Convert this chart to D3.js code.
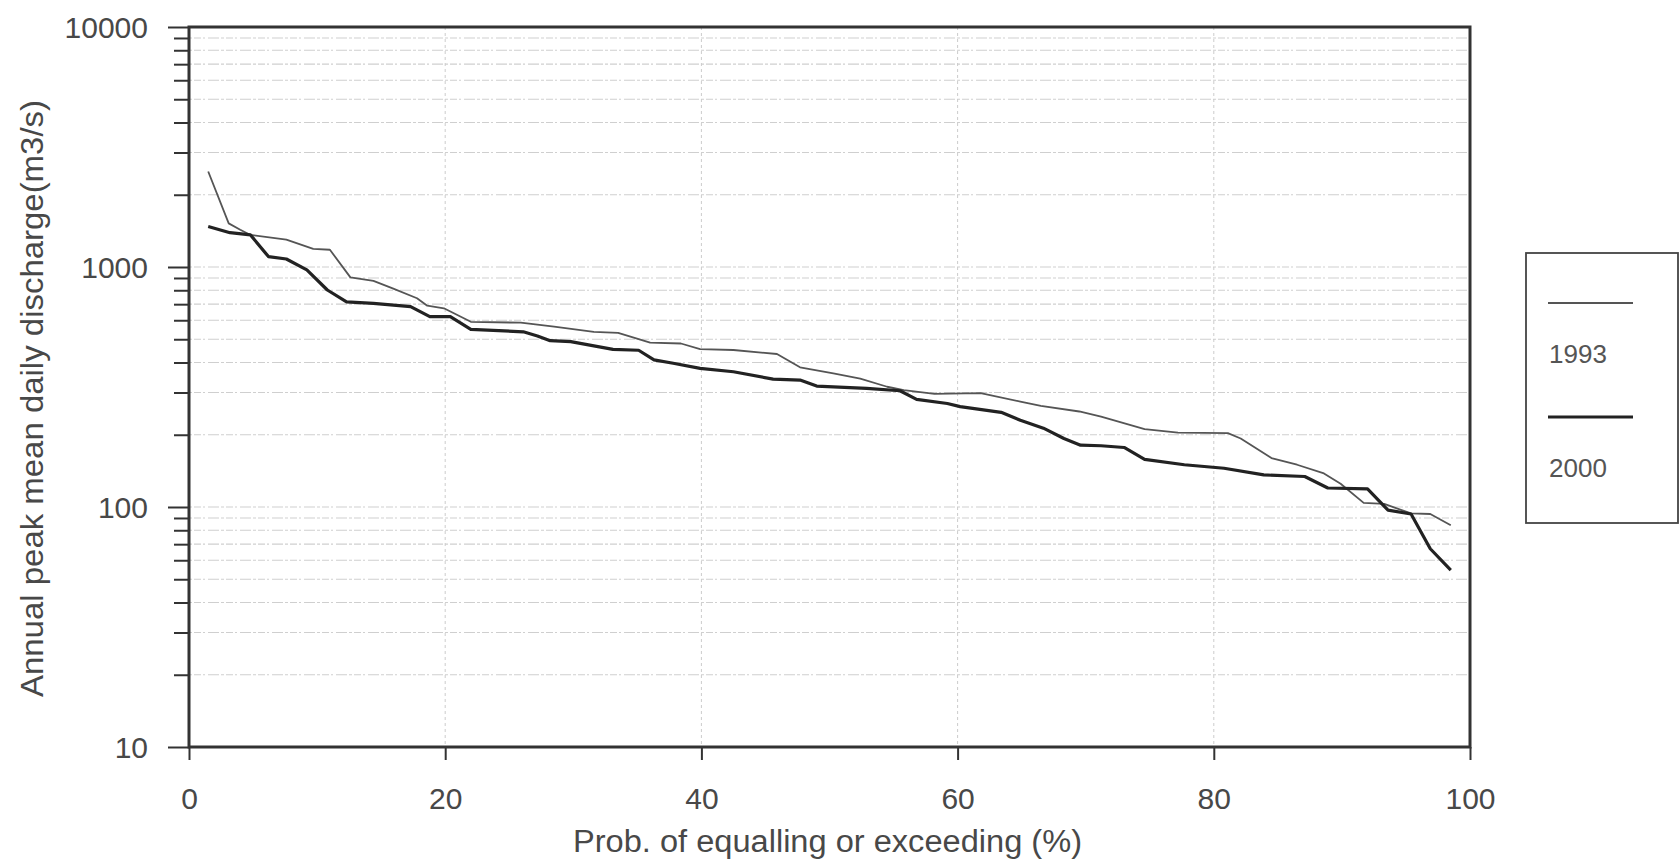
<!DOCTYPE html>
<html>
<head>
<meta charset="utf-8">
<script src="https://cdn.jsdelivr.net/npm/d3@7"></script>
<style>
  html, body { margin: 0; padding: 0; background: #fff; }
  svg { display: block; font-family: "Liberation Sans", Arial, sans-serif; }
</style>
</head>
<body>
<svg id="chart" width="1680" height="867"></svg>
<script>
// Flow duration of annual peak mean daily discharge
const prob1993 = [1.5, 3.1, 4.0, 4.8, 7.6, 9.7, 11.0, 12.6, 14.4, 15.9, 17.8, 18.6, 19.9, 22.0, 25.9, 28.5, 31.6, 33.5, 36.0, 38.4, 39.9, 42.5, 45.9, 47.7, 50.3, 52.4, 54.5, 55.8, 58.2, 61.8, 64.9, 66.5, 69.5, 71.2, 74.6, 77.2, 81.1, 82.1, 84.5, 86.5, 88.6, 89.9, 91.7, 93.3, 95.4, 96.9, 98.5];
const flow1993 = [2500, 1520, 1430, 1360, 1300, 1190, 1180, 905, 875, 815, 741, 690, 673, 591, 586, 564, 537, 532, 484, 480, 455, 451, 434, 382, 360, 343, 317, 307, 296, 298, 275, 264, 250, 238, 211, 204, 203, 193, 160, 150, 138, 125, 104, 103, 94, 93.5, 84];

const prob2000 = [1.5, 3.2, 4.8, 6.2, 7.6, 9.2, 10.8, 12.3, 14.4, 17.3, 18.8, 20.4, 22.0, 26.1, 27.2, 28.2, 29.8, 33.1, 35.1, 36.3, 37.8, 39.9, 42.5, 45.6, 47.7, 49.0, 52.9, 55.5, 56.8, 59.2, 60.2, 63.4, 64.9, 66.7, 68.3, 69.6, 71.2, 73.0, 74.6, 77.7, 80.8, 83.9, 87.1, 88.9, 92.0, 93.6, 95.4, 96.9, 98.5];
const flow2000 = [1475, 1390, 1360, 1105, 1080, 972, 802, 716, 706, 684, 621, 621, 550, 537, 516, 493, 489, 454, 450, 410, 397, 378, 366, 341, 338, 319, 312, 305, 281, 270, 262, 248, 230, 213, 193, 181, 180, 177, 158, 150, 145, 136, 134, 120, 119, 97, 93.5, 67, 54.6];

const xTicks = [0, 20, 40, 60, 80, 100];
const yMajorTicks = [10, 100, 1000, 10000];
const yMinorTicks = [20, 30, 40, 50, 60, 70, 80, 90, 200, 300, 400, 500, 600, 700, 800, 900, 2000, 3000, 4000, 5000, 6000, 7000, 8000, 9000];
const seriesNames = ["1993", "2000"];

const svg = d3.select("#chart");
const plotLeft = 189, plotRight = 1470, plotTop = 27, plotBottom = 747;

const x = d3.scaleLinear().domain([0, 100]).range([plotLeft, plotRight]);
const y = d3.scaleLog().domain([10, 10000]).range([plotBottom, plotTop]);

// horizontal grid at every minor and major decade value
svg.append("g")
  .selectAll("line")
  .data(yMinorTicks.concat([100, 1000]))
  .join("line")
  .attr("x1", plotLeft).attr("x2", plotRight)
  .attr("y1", d => y(d)).attr("y2", d => y(d))
  .attr("stroke", "#cfcfcf")
  .attr("stroke-width", 1.2)
  .attr("stroke-dasharray", "3 2 7 2 2 3 11 2");

// vertical grid
svg.append("g")
  .selectAll("line")
  .data(xTicks.slice(1, -1))
  .join("line")
  .attr("x1", d => x(d)).attr("x2", d => x(d))
  .attr("y1", plotTop).attr("y2", plotBottom)
  .attr("stroke", "#cccccc")
  .attr("stroke-width", 1)
  .attr("stroke-dasharray", "3 3");

// series
const line = d3.line().x(d => x(d[0])).y(d => y(d[1]));
svg.append("path")
  .datum(d3.zip(prob1993, flow1993))
  .attr("d", line)
  .attr("fill", "none")
  .attr("stroke", "#555")
  .attr("stroke-width", 1.8)
  .attr("stroke-linejoin", "round");
svg.append("path")
  .datum(d3.zip(prob2000, flow2000))
  .attr("d", line)
  .attr("fill", "none")
  .attr("stroke", "#222")
  .attr("stroke-width", 3.2)
  .attr("stroke-linejoin", "round");

// axes
const tickColor = "#333";
const yAxisMajor = svg.append("g")
  .attr("transform", `translate(${plotLeft},0)`)
  .call(d3.axisLeft(y).tickValues(yMajorTicks).tickFormat(d3.format("d")).tickSize(21).tickPadding(20));
const yAxisMinor = svg.append("g")
  .attr("transform", `translate(${plotLeft},0)`)
  .call(d3.axisLeft(y).tickValues(yMinorTicks).tickFormat("").tickSize(15));
const xAxis = svg.append("g")
  .attr("transform", `translate(0,${plotBottom})`)
  .call(d3.axisBottom(x).tickValues(xTicks).tickSize(13).tickPadding(28));

[yAxisMajor, yAxisMinor, xAxis].forEach(g => {
  g.select(".domain").remove();
  g.selectAll(".tick line").attr("stroke", tickColor).attr("stroke-width", 2);
  g.selectAll(".tick text").attr("fill", "#484848").style("font-size", "30px");
});
yAxisMajor.selectAll(".tick text").attr("dy", "0.36em");

// plot frame
svg.append("rect")
  .attr("x", plotLeft).attr("y", plotTop)
  .attr("width", plotRight - plotLeft).attr("height", plotBottom - plotTop)
  .attr("fill", "none")
  .attr("stroke", "#333")
  .attr("stroke-width", 3);

// axis titles
svg.append("text")
  .attr("x", (573 + 1082) / 2).attr("y", 852)
  .attr("text-anchor", "middle")
  .attr("fill", "#484848")
  .style("font-size", "31px")
  .attr("textLength", 509)
  .attr("lengthAdjust", "spacingAndGlyphs")
  .text("Prob. of equalling or exceeding (%)");
svg.append("text")
  .attr("transform", `translate(43,${(100 + 697) / 2}) rotate(-90)`)
  .attr("text-anchor", "middle")
  .attr("fill", "#484848")
  .style("font-size", "31px")
  .attr("textLength", 597)
  .attr("lengthAdjust", "spacingAndGlyphs")
  .text("Annual peak mean daily discharge(m3/s)");

// legend
const legend = svg.append("g");
legend.append("rect")
  .attr("x", 1526).attr("y", 253)
  .attr("width", 152).attr("height", 270)
  .attr("fill", "#fff")
  .attr("stroke", "#444")
  .attr("stroke-width", 1.8);
const legendY = [303, 417];
const legendW = [1.8, 3.2];
const legendC = ["#555", "#222"];
seriesNames.forEach((name, i) => {
  legend.append("line")
    .attr("x1", 1548).attr("x2", 1633)
    .attr("y1", legendY[i]).attr("y2", legendY[i])
    .attr("stroke", legendC[i])
    .attr("stroke-width", legendW[i]);
  legend.append("text")
    .attr("x", 1549).attr("y", legendY[i] + 60)
    .attr("fill", "#555")
    .style("font-size", "26px")
    .text(name);
});
</script>
</body>
</html>
